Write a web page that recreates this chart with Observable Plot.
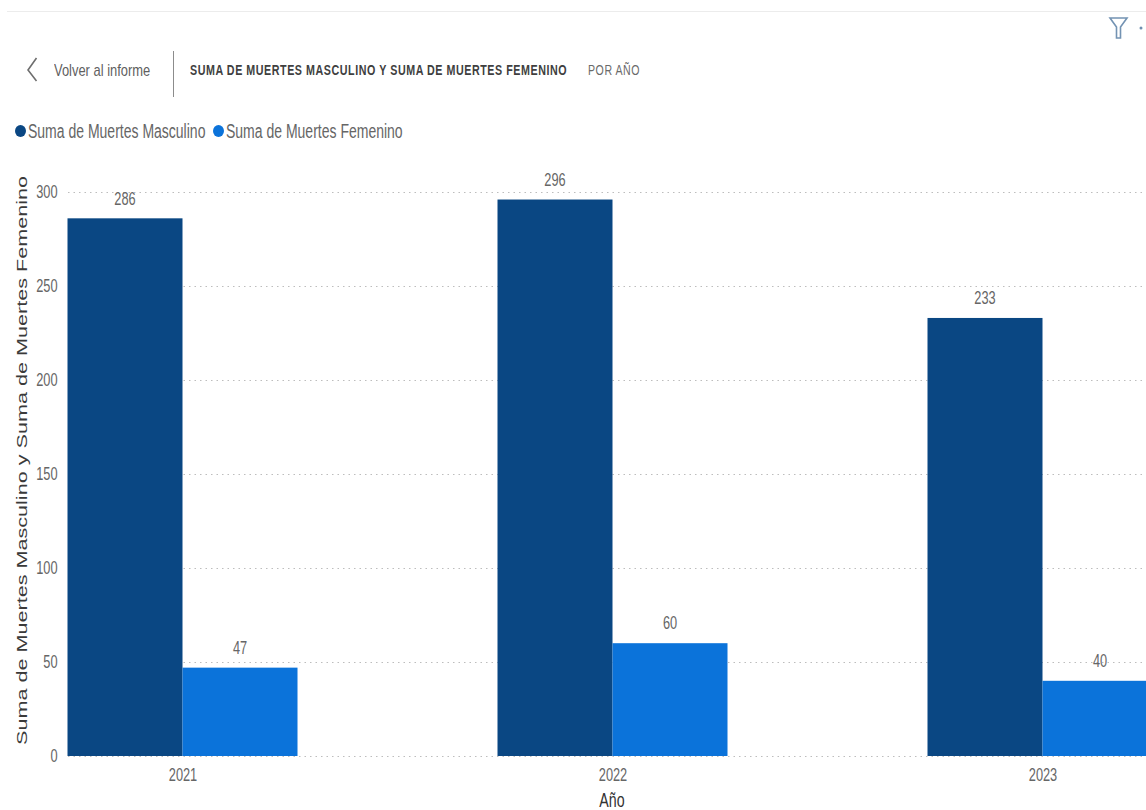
<!DOCTYPE html>
<html lang="es">
<head>
<meta charset="utf-8">
<script src="https://cdn.jsdelivr.net/npm/d3@7"></script>
<script src="https://cdn.jsdelivr.net/npm/@observablehq/plot@0.6"></script>
<style>
  html, body { margin: 0; padding: 0; background: #fff; overflow: hidden; }
  #page { position: relative; width: 1146px; height: 810px; overflow: hidden;
          font-family: "Liberation Sans", sans-serif; }
  #page > * { position: absolute; }
  .narrow { transform-origin: left center; white-space: nowrap; }
  .topline { left: 7px; right: 0; top: 11px; height: 1px; background: #ececec; }
  .back { left: 54px; top: 61px; font-size: 17px; line-height: 20px; color: #5f5f5f; transform: scaleX(.76); }
  .divider { left: 173px; top: 51px; width: 1px; height: 46px; background: #8c8c8c; }
  .title { left: 190px; top: 61px; font-size: 14.5px; line-height: 18px; font-weight: 700; letter-spacing: .75px; color: #3f3f3f; transform: scaleX(.738); }
  .by { left: 588px; top: 61px; font-size: 14.5px; line-height: 18px; letter-spacing: .75px; color: #6a6a6a; transform: scaleX(.73); }
  .legend-item { top: 121px; font-size: 20px; line-height: 20px; color: #666; transform: scaleX(.70); }
  .dot { width: 11px; height: 12px; top: 125px; border-radius: 50%; }
  #chart { left: 0; top: 150px; }
  #chart svg { display: block; }
</style>
</head>
<body>
<div id="page">
  <div class="topline"></div>
  <svg style="left:1100px;top:10px" width="46" height="36" fill="none">
    <path d="M10 8H27L20.5 17V28H16.5V17Z" stroke="#7393b3" stroke-width="1.6"/>
    <circle cx="41" cy="18" r="1.5" fill="#6f8fb0"/>
  </svg>
  <svg style="left:20px;top:50px" width="24" height="36" fill="none">
    <path d="M16.5 8L8 20L16.5 31" stroke="#6e6e6e" stroke-width="1.6"/>
  </svg>
  <div class="back narrow">Volver al informe</div>
  <div class="divider"></div>
  <div class="title narrow">SUMA DE MUERTES MASCULINO Y SUMA DE MUERTES FEMENINO</div>
  <div class="by narrow">POR AÑO</div>
  <div class="dot" style="left:15px;background:#0a4783"></div>
  <div class="legend-item narrow" style="left:28px">Suma de Muertes Masculino</div>
  <div class="dot" style="left:213px;background:#0b73da"></div>
  <div class="legend-item narrow" style="left:226px">Suma de Muertes Femenino</div>
  <div id="chart"></div>
</div>
<script>
// Deaths per year, split by sex
const years = ["2021", "2022", "2023"];
const masculino = [286, 296, 233];
const femenino = [47, 60, 40];
const yTicks = [0, 50, 100, 150, 200, 250, 300];
const colorMasculino = "#0a4783";
const colorFemenino = "#0b73da";
const yTitle = "Suma de Muertes Masculino y Suma de Muertes Femenino";
const xTitle = "Año";

const tableMasculino = years.map((year, i) => ({year, value: masculino[i]}));
const tableFemenino = years.map((year, i) => ({year, value: femenino[i]}));

const labelStyle = {fontSize: 18, fill: "#666"};

const chart = Plot.plot({
  width: 1146,
  height: 660,
  marginLeft: 68,
  marginRight: 0,
  marginTop: 0,
  marginBottom: 54,
  style: {fontFamily: "'Liberation Sans', sans-serif", background: "transparent"},
  x: {type: "band", domain: years, range: [-32.5, 1257.5], padding: 0, round: false},
  y: {domain: [0, 300], range: [606, 42]},
  marks: [
    Plot.ruleY(yTicks, {stroke: "#bdbdbd", strokeDasharray: "1.5,4"}),
    // Each year's band holds the two bars side by side around its centre
    Plot.barY(tableMasculino, {x: "year", y: "value", fill: colorMasculino, insetLeft: 100, insetRight: 215}),
    Plot.barY(tableFemenino, {x: "year", y: "value", fill: colorFemenino, insetLeft: 215, insetRight: 100}),
    Plot.text(tableMasculino, {x: "year", y: "value", text: d => String(d.value), dx: -58, dy: -20, ...labelStyle}),
    Plot.text(tableFemenino, {x: "year", y: "value", text: d => String(d.value), dx: 57, dy: -20, ...labelStyle}),
    Plot.axisY({ticks: yTicks, tickSize: 0, tickPadding: 11, label: null, fontSize: 18, color: "#666"}),
    Plot.axisX({tickSize: 0, tickPadding: 12, label: null, fontSize: 18, color: "#666"}),
    Plot.text([yTitle], {frameAnchor: "left", textAnchor: "middle", rotate: -90, dx: -46, dy: 7, fontSize: 15.5, fill: "#3a3a3a"}),
    Plot.text([xTitle], {x: () => years[1], frameAnchor: "bottom", dx: -1, dy: 50, fontSize: 20, fill: "#333"})
  ]
});
document.getElementById("chart").append(chart);

// The report uses a condensed face for its labels and a wide one for the value axis title
chart.querySelectorAll("text").forEach(t => {
  const isTitle = t.textContent === yTitle;
  const target = isTitle ? 569 : t.getComputedTextLength() * 0.71;
  t.setAttribute("textLength", target);
  t.setAttribute("lengthAdjust", "spacingAndGlyphs");
});
</script>
</body>
</html>
